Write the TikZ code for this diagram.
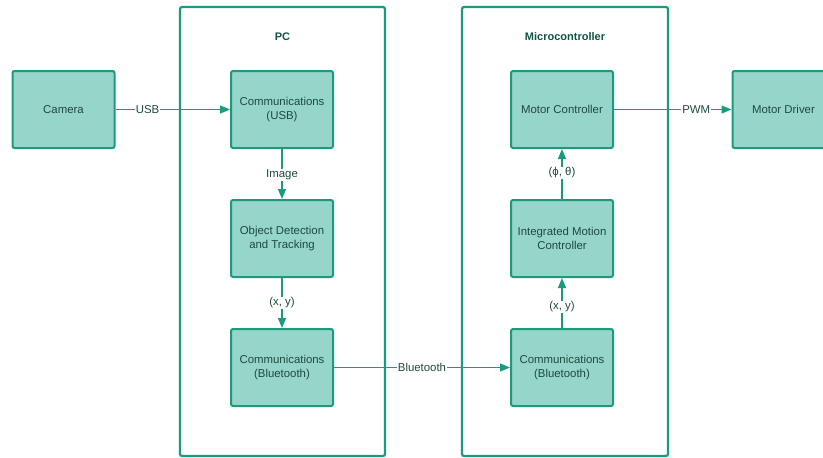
\documentclass[tikz,border=0pt]{standalone}
\usepackage{fontspec}
\setmainfont{Liberation Sans}
\usetikzlibrary{arrows.meta}
\definecolor{boxfill}{HTML}{96D5C9}
\definecolor{boxline}{HTML}{1B9A7F}
\definecolor{txt}{HTML}{1F4A40}
\definecolor{ttl}{HTML}{0F5546}
\tikzset{
  x=1pt,y=-1pt,
  blk/.style={draw=boxline,fill=boxfill,line width=2pt,rounded corners=2pt,minimum width=102pt,minimum height=77pt,align=center,text=txt,font=\fontsize{11.4}{14}\selectfont,inner sep=0pt},
  cont/.style={draw=boxline,line width=2.2pt,rounded corners=2pt},
  conn/.style={draw=boxline,line width=1.4pt,-{Triangle[length=10pt,width=8pt]}},
  lbl/.style={fill=white,text=txt,font=\fontsize{11.4}{13}\selectfont,inner sep=1pt},
  ttlstyle/.style={text=ttl,font=\bfseries\fontsize{11}{13}\selectfont}
}
\begin{document}
\begin{tikzpicture}
\useasboundingbox (0,0) rectangle (823,458);
\path[cont] (180,7) rectangle (385,456);
\path[cont] (462,7) rectangle (668,456);
\node[ttlstyle] (pct) at (282.5,37) {PC};
\node[ttlstyle] (mct) at (565,37) {Microcontroller};
\node[blk] (cam) at (63.5,109.5) {Camera};
\node[blk] (cusb) at (282,109.5) {Communications\\(USB)};
\node[blk] (odt) at (282,238.5) {Object Detection\\and Tracking};
\node[blk] (cbt1) at (282,367.5) {Communications\\(Bluetooth)};
\node[blk] (mc) at (562,109.5) {Motor Controller};
\node[blk] (imc) at (562,238.5) {Integrated Motion\\Controller};
\node[blk] (cbt2) at (562,367.5) {Communications\\(Bluetooth)};
\node[blk] (md) at (783.5,109.5) {Motor Driver};
\draw[conn] (cam) -- node[lbl,pos=0.28] {USB} (cusb);
\draw[conn] (cusb) -- node[lbl,pos=0.52] {Image} (odt);
\draw[conn] (odt) -- node[lbl,pos=0.5] {(x, y)} (cbt1);
\draw[conn] (cbt1) -- node[lbl,pos=0.5] {Bluetooth} (cbt2);
\draw[conn] (cbt2) -- node[lbl,pos=0.42] {(x, y)} (imc);
\draw[conn] (imc) -- node[lbl,pos=0.52] {(ϕ, θ)} (mc);
\draw[conn] (mc) -- node[lbl,pos=0.7] {PWM} (md);
\end{tikzpicture}
\end{document}
